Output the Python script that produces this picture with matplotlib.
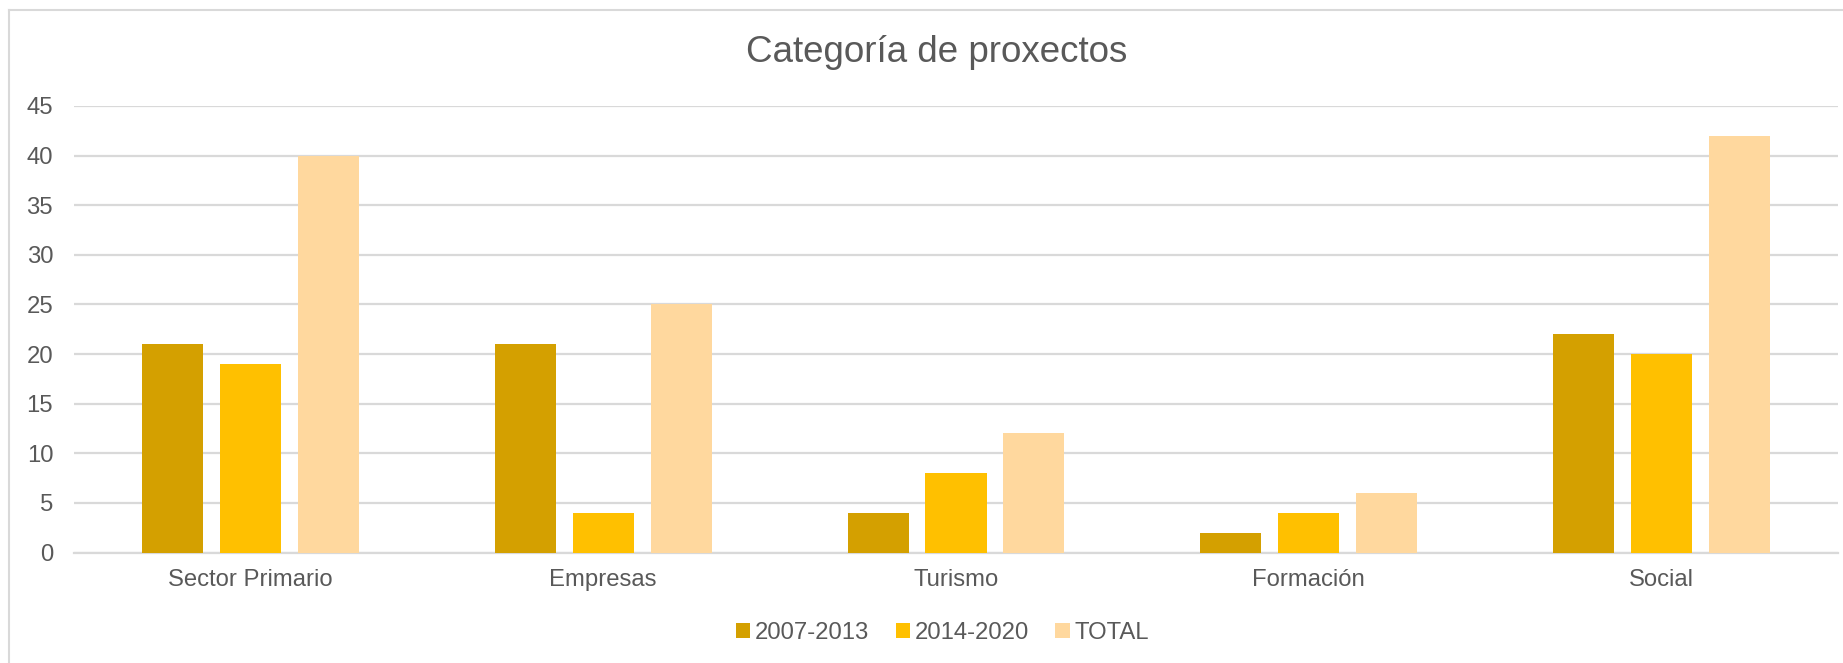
import matplotlib
matplotlib.use("Agg")
import matplotlib.pyplot as plt
import numpy as np
from matplotlib.lines import Line2D

categories = ["Sector Primario", "Empresas", "Turismo", "Formación", "Social"]
series_names = ["2007-2013", "2014-2020", "TOTAL"]
v_2007_2013 = [21, 21, 4, 2, 22]
v_2014_2020 = [19, 4, 8, 4, 20]
v_total = [40, 25, 12, 6, 42]
yticks = [0, 5, 10, 15, 20, 25, 30, 35, 40, 45]

colors = ["#D4A000", "#FFC000", "#FFD89E"]
text_color = "#595959"
grid_color = "#D9D9D9"

plt.rcParams['font.family'] = ['Liberation Sans', 'DejaVu Sans']

W, H = 1843, 663
fig = plt.figure(figsize=(W / 100, H / 100), dpi=100)
ax = fig.add_axes([74 / W, 1 - 552.5 / H, (1838 - 74) / W, (552.5 - 106) / H])

x = np.arange(len(categories))
bw = 0.173
step = 0.221
for i, (vals, name, c) in enumerate(zip([v_2007_2013, v_2014_2020, v_total], series_names, colors)):
    ax.bar(x + (i - 1) * step, vals, width=bw, color=c, label=name, zorder=3)

ax.set_xlim(-0.5, len(categories) - 0.5)
ax.set_ylim(0, 45)
ax.set_yticks(yticks)
ax.set_xticks(x)
ax.set_xticklabels(categories)
ax.yaxis.grid(True, color=grid_color, linewidth=1.6, zorder=0)
ax.set_axisbelow(True)
for s in ["top", "right", "left"]:
    ax.spines[s].set_visible(False)
ax.spines["bottom"].set_color(grid_color)
ax.spines["bottom"].set_linewidth(1.6)
ax.tick_params(axis="both", length=0, labelsize=17.2, colors=text_color)
ax.tick_params(axis="y", pad=15)
ax.tick_params(axis="x", pad=12)

fig.text(937 / W, 1 - 62 / H, "Categoría de proxectos", ha="center", va="baseline",
         fontsize=26.5, color=text_color)

leg = fig.legend(loc="center", bbox_to_anchor=(942.5 / W, 1 - 633 / H), ncol=3, frameon=False,
                 fontsize=17.2, handlelength=0.6, handleheight=0.6, handletextpad=0.2,
                 columnspacing=1.1, labelcolor=text_color)

# chart border (left and top visible)
fig.add_artist(Line2D([9 / W, 9 / W], [0, 1 - 9.5 / H], transform=fig.transFigure,
                      color=grid_color, linewidth=1.5))
fig.add_artist(Line2D([9 / W, 1], [1 - 9.5 / H, 1 - 9.5 / H], transform=fig.transFigure,
                      color=grid_color, linewidth=1.5))

fig.savefig("out.png", dpi=100, facecolor="white")
